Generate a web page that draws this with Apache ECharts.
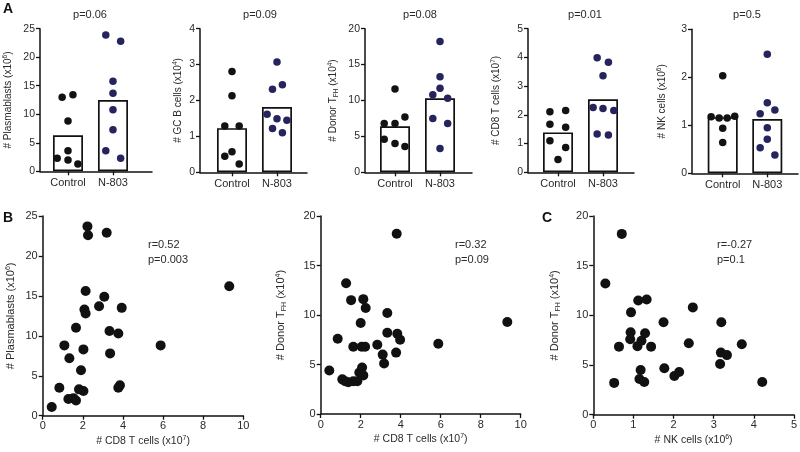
<!DOCTYPE html>
<html><head><meta charset="utf-8">
<script src="https://cdn.jsdelivr.net/npm/echarts@6/dist/echarts.min.js"></script>
<style>html,body{margin:0;padding:0;background:#fff}#c{width:800px;height:452px}</style>
</head><body><div id="c"></div>
<script>
// ---------- DATA ----------
const groups = ['Control', 'N-803'];

// Panel A: per-animal values, beeswarm jitter (in category units), bar heights
const plasmaCtrl    = [13.0, 13.4, 8.8, 3.6, 2.3, 2.0, 1.3];
const plasmaCtrlJit = [-0.13, 0.11, 0, 0, -0.24, 0, 0.22];
const plasmaN803    = [23.9, 22.8, 15.8, 13.7, 10.8, 7.3, 3.6, 2.3];
const plasmaN803Jit = [-0.16, 0.17, 0, 0, 0, 0, -0.16, 0.17];
const plasmaBars    = [6.3, 12.5];

const gcbCtrl    = [2.81, 2.13, 1.29, 1.29, 0.45, 0.57, 0.23];
const gcbCtrlJit = [0, 0, -0.16, 0.16, -0.16, 0, 0.16];
const gcbN803    = [3.07, 2.31, 2.44, 1.62, 1.49, 1.45, 1.22, 1.10];
const gcbN803Jit = [0, -0.1, 0.12, -0.22, 0, 0.22, -0.1, 0.12];
const gcbBars    = [1.23, 1.82];

const tfhCtrl    = [11.6, 6.8, 6.8, 7.7, 4.6, 4.0, 3.6];
const tfhCtrlJit = [0, -0.24, 0, 0.22, -0.24, 0, 0.22];
const tfhN803    = [18.2, 13.3, 11.7, 10.8, 10.3, 7.5, 6.8, 3.3];
const tfhN803Jit = [0, 0, 0, -0.16, 0.17, -0.16, 0.17, 0];
const tfhBars    = [6.4, 10.3];

const cd8Ctrl    = [2.11, 2.15, 1.67, 1.57, 1.10, 0.86, 0.45];
const cd8CtrlJit = [-0.18, 0.17, -0.18, 0.17, -0.18, 0.17, 0];
const cd8N803    = [3.99, 3.83, 3.36, 2.26, 2.22, 2.15, 1.33, 1.30];
const cd8N803Jit = [-0.13, 0.12, 0, -0.22, 0, 0.24, -0.13, 0.12];
const cd8Bars    = [1.39, 2.54];

const nkCtrl    = [2.03, 1.18, 1.15, 1.15, 1.19, 0.94, 0.64];
const nkCtrlJit = [0, -0.26, -0.08, 0.1, 0.27, 0, 0];
const nkN803    = [2.48, 1.47, 1.32, 1.24, 0.95, 0.71, 0.53, 0.38];
const nkN803Jit = [0, 0, 0.17, -0.16, 0, 0, -0.16, 0.17];
const nkBars    = [1.17, 1.13];

const pValuesA = ['p=0.06', 'p=0.09', 'p=0.08', 'p=0.01', 'p=0.5'];

// Panel B/C: correlations [x, y]
const cd8VsPlasma = [
  [0.45,1.1],[0.83,3.5],[1.28,2.1],[1.53,2.2],[1.66,1.9],[1.81,3.3],[2.03,3.1],[1.91,5.7],
  [2.03,8.3],[1.08,8.8],[1.33,7.2],[1.66,11.0],[2.08,13.3],[2.14,12.8],[2.14,15.6],[2.23,23.7],
  [2.26,22.6],[3.19,22.9],[3.07,14.9],[2.81,13.7],[3.94,13.5],[3.33,10.6],[3.77,10.3],[3.36,7.8],
  [3.77,3.5],[3.85,3.8],[5.88,8.8],[9.3,16.2]
];
const cd8VsTfh = [
  [0.43,4.4],[0.85,7.6],[1.08,3.5],[1.22,3.3],[1.38,3.2],[1.63,3.3],[1.83,3.3],[1.27,13.2],
  [1.52,11.5],[1.63,6.8],[2.13,11.6],[2.25,10.7],[2.0,9.2],[2.05,6.8],[2.22,6.8],[2.07,4.7],
  [1.93,4.2],[2.13,3.9],[2.83,7.0],[3.1,6.0],[3.17,5.1],[3.33,10.2],[3.33,8.2],[3.77,6.2],
  [3.83,8.1],[3.97,7.5],[3.8,18.2],[5.88,7.1],[9.33,9.3]
];
const nkVsTfh = [
  [0.3,13.2],[0.71,18.2],[0.52,3.2],[0.64,6.85],[0.94,10.3],[0.93,8.3],[0.92,7.6],[1.1,6.9],
  [1.18,4.5],[1.15,3.6],[1.27,3.3],[1.2,7.45],[1.29,8.2],[1.44,6.85],[1.12,11.5],[1.33,11.6],
  [1.75,9.3],[1.77,4.67],[2.02,3.9],[2.14,4.3],[2.38,7.2],[2.48,10.8],[3.19,9.3],[3.18,6.25],
  [3.33,6.0],[3.16,5.1],[3.7,7.1],[4.21,3.3]
];
const corrStats = [['r=0.52','p=0.003'], ['r=0.32','p=0.09'], ['r=-0.27','p=0.1']];

// ---------- STYLE / LAYOUT ----------
const FONT = '"Liberation Sans", Arial, Helvetica, sans-serif';
const TXT = '#2a2a2a';
const AX = '#111';
const richA = {
  t: {fontSize: 10, fontFamily: FONT, color: TXT},
  sup: {fontSize: 6.5, fontFamily: FONT, color: TXT, padding: [0, 0, 6, 0]},
  sub: {fontSize: 6.5, fontFamily: FONT, color: TXT, padding: [6, 0, 0, 0]}
};
const richB = {
  t: {fontSize: 11, fontFamily: FONT, color: TXT},
  sup: {fontSize: 7, fontFamily: FONT, color: TXT, padding: [0, 0, 6, 0]},
  sub: {fontSize: 7, fontFamily: FONT, color: TXT, padding: [6, 0, 0, 0]}
};
const richBx = {
  t: {fontSize: 10.5, fontFamily: FONT, color: TXT},
  sup: {fontSize: 7, fontFamily: FONT, color: TXT, padding: [0, 0, 6, 0]}
};

const panelsA = [
  {name: '{t|# Plasmablasts (x10}{sup|6}{t|)}', ctrl: plasmaCtrl, cj: plasmaCtrlJit, n: plasmaN803, nj: plasmaN803Jit, bars: plasmaBars,
   yMax: 25, yInt: 5, grid: {left: 40, top: 28.7, width: 112, height: 142.6}, xMin: -0.622, xMax: 1.867, gap: 25, pX: 90},
  {name: '{t|# GC B cells (x10}{sup|4}{t|)}', ctrl: gcbCtrl, cj: gcbCtrlJit, n: gcbN803, nj: gcbN803Jit, bars: gcbBars,
   yMax: 4, yInt: 1, grid: {left: 200, top: 28.7, width: 107, height: 143.6}, xMin: -0.711, xMax: 1.667, gap: 15, pX: 260},
  {name: '{t|# Donor T}{sub|FH}{t| (x10}{sup|4}{t|)}', ctrl: tfhCtrl, cj: tfhCtrlJit, n: tfhN803, nj: tfhN803Jit, bars: tfhBars,
   yMax: 20, yInt: 5, grid: {left: 365, top: 28.7, width: 107, height: 143.6}, xMin: -0.667, xMax: 1.711, gap: 25, pX: 420},
  {name: '{t|# CD8 T cells (x10}{sup|7}{t|)}', ctrl: cd8Ctrl, cj: cd8CtrlJit, n: cd8N803, nj: cd8N803Jit, bars: cd8Bars,
   yMax: 5, yInt: 1, grid: {left: 528, top: 28.7, width: 106, height: 143.6}, xMin: -0.667, xMax: 1.689, gap: 25, pX: 585},
  {name: '{t|# NK cells (x10}{sup|6}{t|)}', ctrl: nkCtrl, cj: nkCtrlJit, n: nkN803, nj: nkN803Jit, bars: nkBars,
   yMax: 3, yInt: 1, grid: {left: 692, top: 29.3, width: 106, height: 144}, xMin: -0.689, xMax: 1.689, gap: 23, pX: 747}
];

const panelsB = [
  {data: cd8VsPlasma, yName: '{t|# Plasmablasts (x10}{sup|6}{t|)}', xName: '{t|# CD8 T cells (x10}{sup|7}{t|)}',
   xMax: 10, xInt: 2, yMax: 25, yInt: 5, grid: {left: 42.7, top: 216, width: 200.6, height: 199.7}, gap: 25, stat: corrStats[0], sx: 148},
  {data: cd8VsTfh, yName: '{t|# Donor T}{sub|FH}{t| (x10}{sup|4}{t|)}', xName: '{t|# CD8 T cells (x10}{sup|7}{t|)}',
   xMax: 10, xInt: 2, yMax: 20, yInt: 5, grid: {left: 320.7, top: 216, width: 200, height: 198}, gap: 33, stat: corrStats[1], sx: 455},
  {data: nkVsTfh, yName: '{t|# Donor T}{sub|FH}{t| (x10}{sup|4}{t|)}', xName: '{t|# NK cells (x10}{sup|6}{t|)}',
   xMax: 5, xInt: 1, yMax: 20, yInt: 5, grid: {left: 593.3, top: 216, width: 200.7, height: 198.7}, gap: 32, stat: corrStats[2], sx: 717}
];

const axLine = {show: true, onZero: false, lineStyle: {color: AX, width: 1.5}};
const axTick = {show: true, length: 4, lineStyle: {color: AX, width: 1.3}};

const grid = [], xAxis = [], yAxis = [], series = [], graphic = [];

panelsA.forEach((p, i) => {
  grid.push(p.grid);
  xAxis.push({type: 'value', gridIndex: i, min: p.xMin, max: p.xMax,
    axisLine: axLine,
    axisTick: Object.assign({}, axTick, {customValues: [0, 1]}),
    axisLabel: {customValues: [0, 1], formatter: v => groups[Math.round(v)], color: TXT, fontSize: 11, fontFamily: FONT, margin: 6},
    splitLine: {show: false}});
  yAxis.push({type: 'value', gridIndex: i, min: 0, max: p.yMax, interval: p.yInt,
    axisLine: axLine, axisTick: axTick,
    axisLabel: {color: TXT, fontSize: 10.5, fontFamily: FONT, margin: 5},
    splitLine: {show: false},
    name: p.name, nameLocation: 'middle', nameGap: p.gap, nameRotate: 90,
    nameTextStyle: {rich: richA}});
  series.push({type: 'bar', xAxisIndex: i, yAxisIndex: i, barWidth: 30, silent: true, z: 1,
    data: p.bars.map((v, k) => [k, v]),
    itemStyle: {color: '#fff', borderColor: AX, borderWidth: 1.7}});
  series.push({type: 'scatter', xAxisIndex: i, yAxisIndex: i, symbolSize: 7.5, z: 3, silent: true,
    data: p.ctrl.map((v, k) => [0 + p.cj[k], v]), itemStyle: {color: '#121212', opacity: 1}});
  series.push({type: 'scatter', xAxisIndex: i, yAxisIndex: i, symbolSize: 7.5, z: 3, silent: true,
    data: p.n.map((v, k) => [1 + p.nj[k], v]), itemStyle: {color: '#26245c', opacity: 1}});
  graphic.push({type: 'text', x: p.pX, y: 15, style: {text: pValuesA[i], align: 'center', verticalAlign: 'middle',
    font: '11px ' + FONT, fill: TXT}});
});

panelsB.forEach((p, j) => {
  const i = panelsA.length + j;
  grid.push(p.grid);
  xAxis.push({type: 'value', gridIndex: i, min: 0, max: p.xMax, interval: p.xInt,
    axisLine: axLine, axisTick: axTick,
    axisLabel: {color: TXT, fontSize: 11, fontFamily: FONT, margin: 5},
    splitLine: {show: false},
    name: p.xName, nameLocation: 'middle', nameGap: 19, nameTextStyle: {rich: richBx}});
  yAxis.push({type: 'value', gridIndex: i, min: 0, max: p.yMax, interval: p.yInt,
    axisLine: axLine, axisTick: axTick,
    axisLabel: {color: TXT, fontSize: 11, fontFamily: FONT, margin: 5},
    splitLine: {show: false},
    name: p.yName, nameLocation: 'middle', nameGap: p.gap, nameRotate: 90,
    nameTextStyle: {rich: richB}});
  series.push({type: 'scatter', xAxisIndex: i, yAxisIndex: i, symbolSize: 10, silent: true,
    data: p.data, itemStyle: {color: '#111', opacity: 1}});
  graphic.push({type: 'text', x: p.sx, y: 237, style: {text: p.stat[0] + '\n' + p.stat[1], align: 'left', verticalAlign: 'top',
    font: '11px ' + FONT, fill: TXT, lineHeight: 15}});
});

[['A', 3, 2], ['B', 3, 211], ['C', 542, 211]].forEach(([t, x, y]) => {
  graphic.push({type: 'text', x: x, y: y, style: {text: t, font: 'bold 14px ' + FONT, fill: '#111'}});
});

const chart = echarts.init(document.getElementById('c'), null, {renderer: 'canvas'});
chart.setOption({
  animation: false,
  backgroundColor: '#fff',
  grid, xAxis, yAxis, series, graphic
});
</script></body></html>
